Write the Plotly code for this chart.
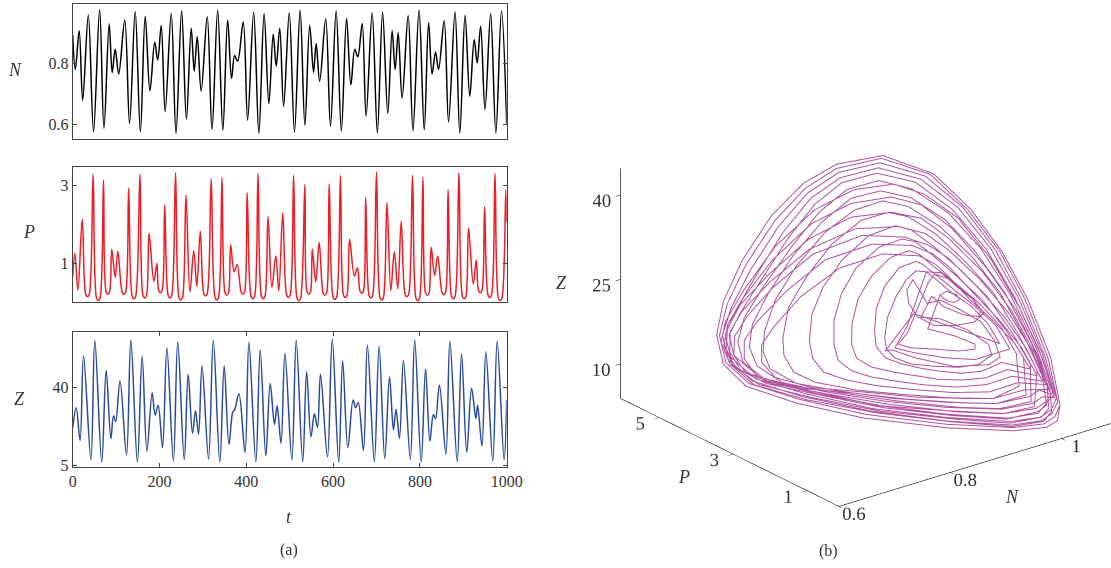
import plotly.graph_objects as go

n_t=[0,6,15,23,36,48,62,72,84,91,98,106,120,131,144,156,167,178,189,196,204,213,227,238,251,262,273,280,287,296,310,321,334,346,357,366,373,380,393,403,417,429,441,452,462,469,477,486,499,511,524,535,546,555,561,569,583,594,607,619,631,641,650,657,667,676,690,702,714,726,736,743,750,759,773,784,798,810,820,828,836,843,856,866,881,892,904,915,925,932,940,950,963,975,988,1000]
n_v=[.893,.780,.908,.679,.960,.575,.978,.586,.930,.770,.847,.765,.943,.602,.971,.574,.956,.710,.870,.811,.925,.641,.965,.569,.974,.616,.916,.775,.888,.709,.954,.582,.976,.580,.943,.751,.826,.807,.937,.613,.969,.569,.965,.668,.896,.791,.916,.659,.967,.574,.976,.596,.925,.771,.866,.741,.947,.593,.974,.577,.949,.730,.847,.822,.932,.626,.967,.571,.969,.635,.908,.780,.901,.686,.958,.578,.976,.582,.934,.765,.838,.780,.941,.607,.970,.571,.959,.692,.879,.802,.923,.648,.965,.571,.974,.600]
p_t=[0,5,12,22,30,34,38,47,55,59,63,71,77,81,85,90,98,104,114,118,122,129,137,141,145,155,162,166,170,176,187,194,198,202,206,212,220,224,228,237,245,249,253,261,270,279,286,294,302,306,310,319,328,332,336,344,351,355,359,364,372,379,388,392,396,402,411,415,419,427,435,439,443,450,459,468,475,484,493,497,501,509,517,521,525,535,540,544,548,552,560,568,577,581,585,591,600,604,608,617,624,628,632,638,649,656,662,666,670,675,683,687,691,700,708,712,716,724,733,741,749,757,766,770,774,783,791,795,799,807,813,817,821,826,834,841,851,855,859,865,873,877,881,890,898,902,906,912,923,930,935,939,943,949,957,961,965,973,981,985,989,998,1000]
p_v=[.657,1.258,.313,2.133,.20,.142,.20,3.300,.10,.039,.10,3.146,.26,.202,.26,1.361,.639,1.309,.26,.202,.26,2.940,.15,.090,.15,3.300,.17,.107,.17,1.773,.536,1.0,.30,.245,.30,2.511,.17,.107,.17,3.335,.12,.056,.12,2.768,.262,1.326,.416,1.824,.22,.159,.22,3.180,.12,.056,.12,3.215,.24,.176,.24,1.481,.785,.974,.27,.210,.27,2.820,.15,.090,.15,3.318,.15,.090,.15,2.202,.382,1.189,.296,2.305,.18,.124,.18,3.266,.10,.039,.10,3.034,.27,.210,.27,1.361,.528,1.541,.24,.176,.24,3.043,.13,.073,.13,3.266,.18,.124,.18,1.618,.674,.888,.29,.227,.29,2.700,.17,.107,.17,3.352,.12,.056,.12,2.562,.296,1.292,.348,2.082,.20,.142,.20,3.266,.10,.039,.10,3.215,.24,.176,.24,1.412,.691,1.189,.25,.193,.25,2.906,.15,.090,.15,3.335,.15,.090,.15,1.910,.468,1.086,.30,.245,.30,2.459,.18,.124,.18,3.318,.10,.039,.10,2.888,2.073]
z_t=[0,8,17,25,42,51,67,77,88,94,99,109,124,134,149,160,171,183,190,197,207,217,232,242,257,266,276,283,290,298,313,324,339,349,360,369,373,383,397,406,422,432,445,455,465,471,480,489,505,515,530,539,549,557,564,571,587,598,613,622,634,646,652,658,670,679,695,706,719,730,739,745,753,762,778,788,803,813,823,831,836,845,860,869,886,896,908,919,929,933,943,952,968,978,994,1000]
z_v=[21.8,30.8,16.1,54.3,7.3,61.2,6.2,47.7,16.9,27.2,24.5,43.0,9.5,61.5,6.2,54.0,11.3,37.6,27.5,32.0,12.8,57.9,6.8,60.6,7.4,45.9,19.3,29.5,18.8,49.8,7.7,61.2,6.2,49.8,14.3,29.0,29.8,37.1,10.7,60.3,6.2,57.0,9.2,41.7,23.3,31.7,14.8,55.3,7.3,61.2,6.5,47.1,17.8,28.1,22.0,45.9,8.6,61.8,6.2,51.9,12.8,34.3,30.8,33.2,11.6,59.1,6.5,58.5,8.0,44.7,20.9,30.2,17.0,52.2,7.4,61.5,6.2,48.3,15.8,27.8,25.9,41.1,9.8,60.9,6.5,55.2,10.7,39.6,26.0,32.0,13.6,56.1,6.8,60.9,7.3,34.3]

t12=[(.960,2.82,21.9),(.970,2.80,22.3),(.980,2.67,21.8),(.979,2.59,21.2),(.970,2.61,20.9),(.962,2.72,21.3),(.960,2.82,21.9)]
e1=[(.919,2.54,18.0),(.946,2.22,17.0),(.964,1.94,15.9),(.960,1.88,15.3),(.939,2.01,15.2),(.912,2.24,15.6),(.885,2.47,15.9),(.872,2.63,16.4),(.892,2.68,17.7)]
t11=[(.955,3.07,23.4),(.969,3.11,24.4),(.983,2.91,23.7),(.995,2.53,21.5),(.997,2.28,19.9),(.990,2.22,19.1),(.973,2.37,19.4),(.955,2.65,20.5),(.949,2.88,21.8)]
e2=[(.920,2.74,19.4),(.942,2.54,19.1),(.966,2.16,17.6),(.980,1.82,15.8),(.976,1.67,14.6),(.952,1.76,14.1),(.918,2.05,14.5),(.885,2.38,15.3),(.865,2.62,16.0),(.897,2.76,18.5)]
t10=[(.961,3.21,24.7),(.978,3.07,24.5),(.986,2.77,22.8),(.996,2.46,21.1),(.998,2.21,19.5),(.980,2.20,18.5),(.953,2.34,18.2),(.929,2.52,18.4),(.916,2.77,19.5),(.916,3.01,21.1),(.924,3.18,22.7),(.939,3.24,23.9)]
e3=[(.938,2.84,21.0),(.956,2.76,21.3),(.973,2.46,20.0),(.988,2.14,18.5),(.990,1.80,16.2),(.984,1.56,14.2),(.965,1.58,13.4),(.923,1.86,13.4),(.882,2.32,14.7),(.860,2.63,15.8),(.851,2.67,15.7),(.914,2.84,19.9)]
t9=[(.994,1.72,15.8),(.995,2.06,18.2),(.989,2.40,20.3),(.975,2.74,22.1),(.967,3.03,23.7),(.961,3.21,24.7),(.949,3.31,24.9),(.931,3.30,23.9),(.906,3.20,22.0),(.880,3.04,19.6),(.861,2.83,17.3),(.854,2.68,15.9),(.858,2.50,14.8),(.873,2.28,14.0),(.899,2.04,13.6),(.927,1.82,13.3),(.953,1.67,13.5),(.978,1.66,14.6)]
t8=[(1.002,1.57,15.1),(1.003,1.97,18.0),(.993,2.37,20.3),(.979,2.80,22.7),(.968,3.14,24.6),(.962,3.33,25.6),(.956,3.42,26.0),(.932,3.50,25.4),(.900,3.42,23.3),(.873,3.24,20.7),(.854,3.00,18.1),(.844,2.81,16.3),(.846,2.59,14.9),(.861,2.37,14.1),(.882,2.14,13.4),(.904,1.92,12.9),(.926,1.72,12.6),(.952,1.56,12.7),(.982,1.48,13.6)]
w7=[(1.011,1.15,12.6),(1.012,1.58,15.7),(1.004,2.02,18.4),(.992,2.49,21.1),(.984,2.93,23.9),(.978,3.21,25.5),(.965,3.46,26.6),(.922,3.81,27.1),(.860,4.04,25.7),(.791,4.06,22.6),(.737,3.96,19.3),(.708,3.86,17.2),(.695,3.66,15.2),(.700,3.36,13.3),(.736,2.91,11.9),(.797,2.37,11.0),(.853,1.86,10.1),(.912,1.39,9.6),(.944,1.15,9.4),(.984,1.05,10.7)]
t7=[(1.006,1.45,14.5),(1.008,1.90,17.8),(1.000,2.38,20.7),(.986,2.86,23.4),(.973,3.22,25.4),(.966,3.48,26.8),(.956,3.61,27.3),(.929,3.70,26.6),(.892,3.66,24.5),(.859,3.52,22.0),(.832,3.28,19.1),(.816,3.05,16.7),(.812,2.85,15.0),(.823,2.61,13.9),(.844,2.37,13.2),(.869,2.11,12.6),(.894,1.86,12.0),(.921,1.64,11.8),(.951,1.45,11.9),(.983,1.36,12.7)]
w6=[(1.014,1.01,11.8),(1.017,1.48,15.2),(1.011,2.00,18.6),(1.001,2.54,21.9),(.992,3.05,25.1),(.982,3.36,26.8),(.964,3.64,27.9),(.917,4.02,28.3),(.850,4.26,26.8),(.780,4.26,23.4),(.721,4.17,20.0),(.691,4.07,17.9),(.677,3.86,15.7),(.679,3.55,13.6),(.716,3.06,12.0),(.780,2.48,11.0),(.840,1.93,9.9),(.905,1.37,9.1),(.944,1.06,8.8),(.986,.89,9.6)]
t6=[(1.012,1.35,14.0),(1.012,1.82,17.3),(1.006,2.39,21.1),(.994,2.89,24.0),(.981,3.34,26.6),(.971,3.65,28.3),(.957,3.81,28.7),(.923,3.92,27.9),(.880,3.89,25.6),(.843,3.73,22.7),(.813,3.48,19.6),(.795,3.21,16.8),(.788,2.99,14.9),(.796,2.74,13.6),(.816,2.49,12.7),(.841,2.23,12.1),(.870,1.95,11.5),(.908,1.62,11.0),(.946,1.37,11.1),(.984,1.23,11.9)]
w5=[(1.016,.90,11.1),(1.022,1.42,15.0),(1.020,1.99,18.9),(1.010,2.59,22.7),(.998,3.15,26.1),(.984,3.49,27.8),(.962,3.80,28.9),(.912,4.21,29.4),(.838,4.44,27.5),(.766,4.42,23.9),(.713,4.32,20.7),(.682,4.20,18.4),(.667,3.99,16.2),(.668,3.69,14.1),(.703,3.22,12.5),(.765,2.61,11.1),(.826,2.00,9.8),(.897,1.35,8.6),(.944,.97,8.2),(.987,.77,8.8)]
t5=[(1.015,1.21,13.2),(1.017,1.72,16.9),(1.015,2.38,21.4),(1.003,2.94,24.8),(.988,3.46,27.8),(.975,3.82,29.7),(.959,4.02,30.3),(.920,4.15,29.3),(.870,4.11,26.7),(.826,3.97,23.6),(.792,3.76,20.5),(.768,3.47,17.3),(.759,3.24,15.3),(.762,2.99,13.6),(.782,2.70,12.6),(.814,2.36,11.7),(.855,1.98,11.0),(.900,1.58,10.4),(.945,1.26,10.2),(.985,1.11,11.1)]
w4=[(1.018,.83,10.7),(1.027,1.35,14.8),(1.028,1.99,19.3),(1.019,2.64,23.5),(1.004,3.25,27.1),(.989,3.66,29.2),(.962,3.98,30.2),(.909,4.35,30.2),(.838,4.53,28.1),(.766,4.51,24.5),(.711,4.43,21.3),(.681,4.30,19.0),(.665,4.07,16.6),(.664,3.77,14.4),(.692,3.32,12.6),(.751,2.68,11.0),(.816,2.02,9.4),(.890,1.33,8.1),(.944,.88,7.6),(.987,.68,8.2)]
t4=[(1.018,1.07,12.4),(1.023,1.62,16.5),(1.025,2.36,21.8),(1.015,3.00,25.8),(1.001,3.57,29.1),(.981,4.01,31.3),(.961,4.24,31.9),(.923,4.39,31.2),(.869,4.38,28.6),(.814,4.24,24.9),(.769,4.05,21.4),(.739,3.75,17.9),(.727,3.54,15.9),(.726,3.26,13.8),(.744,2.94,12.5),(.787,2.49,11.3),(.839,2.01,10.5),(.892,1.55,9.8),(.944,1.15,9.4),(.988,.97,10.2)]
w3=[(1.017,.75,10.1),(1.028,1.28,14.4),(1.033,1.98,19.5),(1.028,2.69,24.3),(1.013,3.39,28.5),(.996,3.87,31.0),(.965,4.21,31.9),(.913,4.52,31.6),(.845,4.65,29.3),(.772,4.61,25.5),(.714,4.52,22.1),(.680,4.36,19.4),(.663,4.14,17.0),(.659,3.84,14.8),(.684,3.38,12.7),(.739,2.76,11.0),(.805,2.04,9.1),(.883,1.31,7.7),(.945,.79,6.9),(.988,.59,7.6),(1.003,.59,8.3)]
t3=[(1.020,.96,11.7),(1.028,1.52,16.0),(1.033,2.30,21.8),(1.027,3.00,26.3),(1.012,3.61,29.9),(.989,4.13,32.5),(.963,4.42,33.3),(.922,4.57,32.4),(.870,4.58,30.0),(.809,4.45,26.2),(.758,4.25,22.3),(.722,3.99,18.8),(.705,3.77,16.4),(.700,3.51,14.4),(.720,3.11,12.5),(.766,2.63,11.3),(.824,2.06,10.1),(.885,1.53,9.3),(.944,1.06,8.8),(.989,.84,9.4),(1.006,.83,10.1)]
w2=[(1.016,.67,9.5),(1.030,1.21,13.9),(1.039,1.97,19.7),(1.036,2.72,24.8),(1.025,3.48,29.6),(1.006,4.03,32.6),(.976,4.39,33.7),(.923,4.68,33.2),(.860,4.80,31.1),(.786,4.74,27.1),(.723,4.57,22.9),(.683,4.40,19.8),(.663,4.20,17.4),(.658,3.88,15.0),(.675,3.43,12.6),(.729,2.79,10.7),(.799,2.03,8.7),(.881,1.27,7.3),(.946,.71,6.4),(.988,.50,6.9),(1.003,.53,7.9)]
t2=[(1.021,.86,11.1),(1.032,1.43,15.6),(1.039,2.26,21.7),(1.035,2.99,26.7),(1.023,3.64,30.7),(.999,4.20,33.5),(.968,4.55,34.5),(.927,4.74,33.8),(.874,4.73,31.2),(.813,4.60,27.4),(.755,4.39,23.2),(.713,4.18,19.7),(.692,3.95,17.1),(.687,3.67,14.8),(.704,3.24,12.7),(.753,2.70,11.2),(.814,2.08,9.8),(.881,1.47,8.7),(.946,.95,8.1),(.988,.73,8.6),(1.005,.72,9.3)]
w1=[(1.018,.60,9.1),(1.034,1.18,13.9),(1.045,1.98,20.1),(1.048,2.78,25.8),(1.040,3.54,30.8),(1.018,4.12,33.8),(.989,4.51,35.2),(.937,4.81,34.8),(.874,4.93,32.7),(.800,4.87,28.7),(.728,4.65,23.7),(.683,4.46,20.2),(.662,4.26,17.8),(.656,3.93,15.2),(.669,3.48,12.6),(.720,2.83,10.5),(.794,2.04,8.5),(.875,1.27,7.0),(.945,.66,6.0),(.987,.43,6.4),(1.004,.47,7.5)]
t1=[(1.021,.77,10.5),(1.034,1.35,15.2),(1.044,2.19,21.5),(1.044,2.99,27.1),(1.032,3.69,31.5),(1.007,4.29,34.5),(.974,4.69,35.7),(.929,4.87,34.9),(.879,4.87,32.4),(.820,4.72,28.6),(.754,4.51,24.0),(.708,4.33,20.5),(.682,4.11,17.7),(.673,3.83,15.3),(.687,3.40,13.0),(.739,2.77,11.1),(.806,2.06,9.3),(.879,1.43,8.3),(.946,.87,7.6),(.988,.64,8.0),(1.005,.63,8.7)]
o5=[(1.021,.69,9.9),(1.036,1.28,14.7),(1.047,2.13,21.3),(1.050,2.94,27.0),(1.040,3.69,31.8),(1.016,4.34,35.3),(.977,4.79,36.6),(.928,5.00,35.7),(.879,4.99,33.4),(.822,4.85,29.6),(.757,4.61,24.8),(.707,4.42,21.1),(.677,4.27,18.6),(.667,3.99,16.2),(.681,3.52,13.5),(.732,2.89,11.5),(.799,2.13,9.4),(.876,1.39,7.9),(.947,.79,7.0),(.986,.57,7.4)]
o4=[(1.020,.64,9.5),(1.037,1.21,14.3),(1.051,2.08,21.1),(1.056,2.90,27.0),(1.048,3.66,32.0),(1.025,4.33,35.6),(.983,4.84,37.2),(.930,5.07,36.3),(.879,5.10,34.1),(.820,4.96,30.3),(.755,4.71,25.4),(.703,4.49,21.4),(.672,4.30,18.6),(.662,4.00,16.0),(.675,3.53,13.3),(.724,2.90,11.2),(.793,2.12,9.0),(.874,1.35,7.5),(.947,.73,6.6),(.986,.51,6.9),(1.004,.49,7.7)]
o3=[(1.020,.58,9.0),(1.038,1.15,13.9),(1.054,2.03,20.8),(1.060,2.83,26.8),(1.054,3.62,32.0),(1.033,4.32,35.9),(.989,4.88,37.8),(.932,5.15,36.9),(.879,5.19,34.7),(.819,5.07,31.0),(.752,4.82,26.1),(.700,4.56,21.8),(.669,4.33,18.6),(.657,3.99,15.7),(.669,3.53,13.1),(.718,2.89,10.9),(.787,2.12,8.8),(.871,1.31,7.1),(.946,.67,6.2),(.985,.45,6.5),(1.003,.44,7.3)]
o2=[(1.019,.53,8.6),(1.041,1.13,13.9),(1.058,2.00,20.8),(1.064,2.77,26.6),(1.058,3.55,31.7),(1.040,4.29,36.1),(.994,4.92,38.3),(.933,5.21,37.4),(.881,5.27,35.3),(.819,5.17,31.7),(.750,4.92,26.7),(.698,4.64,22.2),(.665,4.35,18.6),(.652,3.98,15.4),(.664,3.53,12.8),(.712,2.89,10.6),(.780,2.11,8.4),(.869,1.27,6.7),(.946,.63,5.9),(.985,.40,6.1),(1.004,.38,6.9)]
o1=[(1.019,.47,8.2),(1.044,1.1,13.9),(1.061,1.97,20.8),(1.067,2.75,26.5),(1.062,3.52,31.7),(1.045,4.27,36.1),(.998,4.94,38.6),(.936,5.26,37.9),(.882,5.34,35.9),(.819,5.26,32.3),(.75,5.01,27.3),(.696,4.71,22.6),(.662,4.38,18.7),(.648,3.99,15.2),(.658,3.53,12.5),(.705,2.88,10.2),(.774,2.1,8.0),(.866,1.23,6.3),(.944,.59,5.5),(.986,.33,5.7),(1.004,.31,6.4),(1.019,.47,8.2)]
loops=[t12,e1,t11,e2,t10,e3,t9,t8,w7,t7,w6,t6,w5,t5,w4,t4,w3,t3,w2,t2,w1,t1,o5,o4,o3,o2,o1]
a_n=[p[0] for L in loops for p in L]
a_p=[p[1] for L in loops for p in L]
a_z=[p[2] for L in loops for p in L]

W,H=1111,568
FONT="Liberation Serif"; INK="#333333"
fig=go.Figure()
def dom(a,b): return [1-b/H,1-a/H]
panels=[("",n_t,n_v,"#000000",[4,138.7],[.552,.996],[.6,.8],["0.6","0.8"]),
        ("2",p_t,p_v,"#ee1c25",[166.7,301.7],[.013,3.489],[1,3],["1","3"]),
        ("3",z_t,z_v,"#2a4b9b",[331.7,466.7],[4.25,65.1],[5,40],["5","40"])]
for i,(s,t,v,c,d,r,tv,tt) in enumerate(panels):
    fig.add_trace(go.Scatter(x=t,y=v,mode="lines",line=dict(color=c,width=1.5,shape="spline",smoothing=1.0),xaxis="x"+s,yaxis="y"+s,showlegend=False))
    last=i==2
    fig.update_layout({"xaxis"+s:dict(domain=[72.7/W,506.7/W],range=[0,1000],anchor="y"+s,showgrid=False,zeroline=False,showline=True,linecolor="#444",linewidth=1,mirror="ticks" if last else True,ticks="inside" if last else "",ticklen=4,tickcolor="#444",tickvals=[0,200,400,600,800,1000],showticklabels=last,tickfont=dict(family=FONT,size=16,color=INK)),
        "yaxis"+s:dict(domain=dom(*d),range=r,anchor="x"+s,showgrid=False,zeroline=False,showline=True,linecolor="#444",linewidth=1,mirror="ticks",ticks="inside",ticklen=4,tickcolor="#444",tickvals=tv,ticktext=tt,tickfont=dict(family=FONT,size=16,color=INK))})
fig.add_trace(go.Scatter3d(x=a_n,y=a_p,z=a_z,mode="lines",line=dict(color="#b0509f",width=2),showlegend=False,scene="scene"))
ax=dict(showgrid=False,zeroline=False,showbackground=False,showline=True,linecolor="#000",linewidth=1.2,ticks="outside",ticklen=6,tickcolor="#000",showspikes=False,title=dict(text=""),tickangle=0,tickfont=dict(family=FONT,size=15,color=INK))
fig.update_layout(width=W,height=H,margin=dict(l=0,r=0,t=0,b=0,autoexpand=False),paper_bgcolor="white",plot_bgcolor="white",showlegend=False,
  scene=dict(domain=dict(x=[.49,1],y=[0,.9613]),aspectmode="manual",aspectratio=dict(x=1.296,y=1.296,z=.914),
    camera=dict(projection=dict(type="orthographic"),eye=dict(x=-.965,y=-.9835,z=.577),center=dict(x=-.119,y=.0935,z=0)),
    xaxis=dict(ax,range=[.6,1.1],tickvals=[.6,.8,1],ticktext=["0.6","0.8","1"]),
    yaxis=dict(ax,range=[.14,6.05],tickvals=[1,3,5],ticktext=["1","3","5"]),
    zaxis=dict(ax,range=[3.9,44.7],tickvals=[10,25,40],ticktext=["10","25","40"])))
for txt,x,y,sz in [("<i>N</i>",15,70,18),("<i>P</i>",29,232,18),("<i>Z</i>",19,399,18),("<i>t</i>",289,517,18),("(a)",289,550,16),("(b)",828,551,16),("<i>Z</i>",561,283,18),("<i>P</i>",684,477,18),("<i>N</i>",1012,497,18)]:
    fig.add_annotation(text=txt,x=x/W,y=1-y/H,xref="paper",yref="paper",xanchor="center",yanchor="middle",showarrow=False,font=dict(family=FONT,size=sz,color=INK))
fig.write_html("out.html",config={"displayModeBar":False},post_script="document.body.style.margin='0';")
